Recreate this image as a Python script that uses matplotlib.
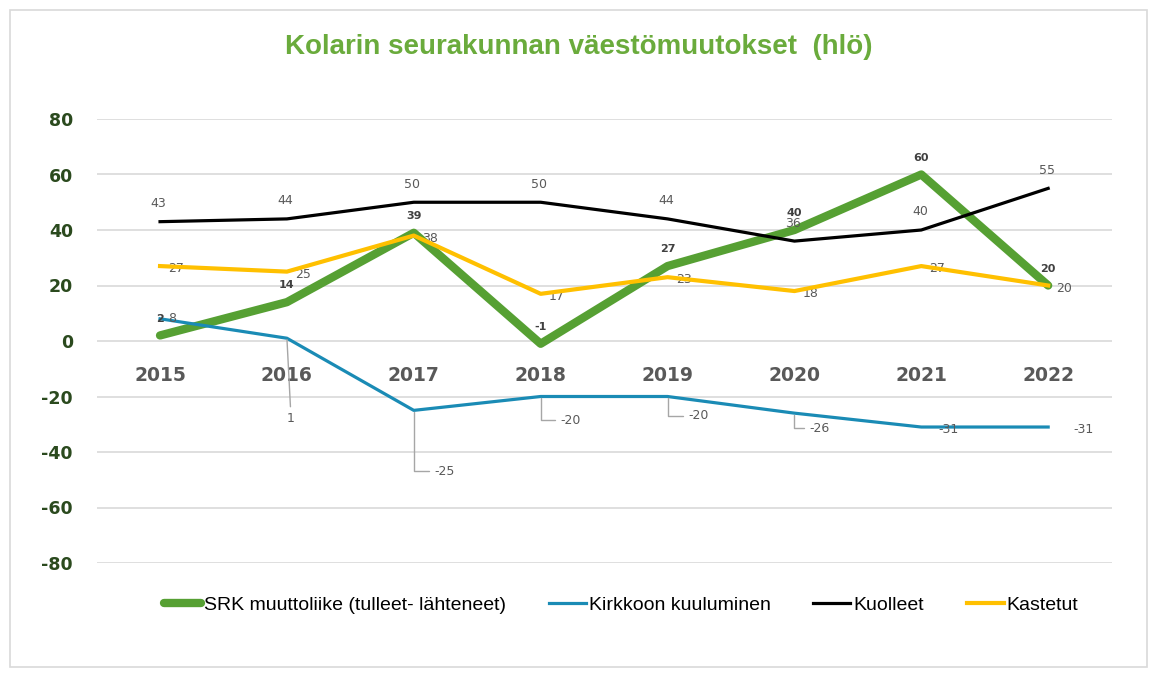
import matplotlib
matplotlib.use("Agg")
import matplotlib.pyplot as plt
import matplotlib.patches as mpatches

plt.rcParams["axes.unicode_minus"] = False

W_PX, H_PX, DPI = 1157, 675, 100

years = ["2015", "2016", "2017", "2018", "2019", "2020", "2021", "2022"]
srk = [2, 14, 39, -1, 27, 40, 60, 20]
kirkko = [8, 1, -25, -20, -20, -26, -31, -31]
kuolleet = [43, 44, 50, 50, 44, 36, 40, 55]
kastetut = [27, 25, 38, 17, 23, 18, 27, 20]

GREEN = "#56A033"
BLUE = "#1A8BB5"
YELLOW = "#FFC000"
GRAY = "#595959"
NARROW = ["Liberation Sans Narrow", "Liberation Sans", "DejaVu Sans"]

fig = plt.figure(figsize=(W_PX / DPI, H_PX / DPI), dpi=DPI)
fig.patch.set_facecolor("white")
ax = fig.add_axes([96.6 / W_PX, 1 - 563 / H_PX, 1015 / W_PX, 444 / H_PX])

# outer frame
fig.add_artist(mpatches.Rectangle((10 / W_PX, 8 / H_PX), 1137 / W_PX, 657 / H_PX,
                                  transform=fig.transFigure, fill=False,
                                  edgecolor="#D9D9D9", lw=1.2))

x = list(range(len(years)))
ax.plot(x, kuolleet, color="black", lw=2.3, label="Kuolleet", zorder=3)
ax.plot(x, kastetut, color=YELLOW, lw=3.0, label="Kastetut", zorder=4)
ax.plot(x, kirkko, color=BLUE, lw=2.3, label="Kirkkoon kuuluminen", zorder=3)
ax.plot(x, srk, color=GREEN, lw=6, label="SRK muuttoliike (tulleet- lähteneet)",
        zorder=2, solid_capstyle="round")

ax.set_xlim(-0.5, len(years) - 0.5)
ax.set_ylim(-80, 80)
ax.set_yticks(range(-80, 81, 20))
ax.grid(axis="y", color="#D9D9D9", lw=1.2)
ax.set_axisbelow(True)
for s in ax.spines.values():
    s.set_visible(False)
ax.spines["bottom"].set_position(("data", 0))
ax.set_xticks(x)
ax.set_xticklabels(years, fontsize=13.5, fontweight="bold", color=GRAY)
ax.tick_params(axis="x", length=0, pad=18)
ax.tick_params(axis="y", length=0, pad=17, labelcolor="#2B4A1E", labelsize=12.5)
for t in ax.get_yticklabels():
    t.set_fontweight("bold")

# data labels
for i, v in enumerate(kuolleet):
    ax.annotate(str(v), (i, v), xytext=(-1, 13), textcoords="offset points",
                ha="center", va="center", fontsize=9, color=GRAY)
for i, v in enumerate(kastetut):
    ax.annotate(str(v), (i, v), xytext=(6, -2), textcoords="offset points",
                ha="left", va="center", fontsize=9, color=GRAY)
for i, v in enumerate(srk):
    ax.annotate(str(v), (i, v), xytext=(0, 12), textcoords="offset points",
                ha="center", va="center", fontsize=8, fontweight="bold", color="#404040")

blue_off = [(6, 0), (3, -58), (15, -44), (14, -17), (15, -14), (11, -11), (12, -2), (18, -2)]
blue_lead = [None, "arc3", "angle", "angle", "angle", "angle", None, None]
for i, v in enumerate(kirkko):
    dx, dy = blue_off[i]
    props = None
    if blue_lead[i] == "arc3":
        props = dict(arrowstyle="-", color="#A6A6A6", lw=1, shrinkA=2, shrinkB=1)
    elif blue_lead[i] == "angle":
        props = dict(arrowstyle="-", color="#A6A6A6", lw=1, shrinkA=2, shrinkB=1,
                     connectionstyle="angle,angleA=0,angleB=90,rad=0")
    ax.annotate(str(v), (i, v), xytext=(dx, dy), textcoords="offset points",
                ha="left" if blue_lead[i] != "arc3" else "center", va="center",
                fontsize=9, color=GRAY, arrowprops=props)

fig.text(0.5, 1 - 47 / H_PX, "Kolarin seurakunnan väestömuutokset  (hlö)",
         ha="center", va="center", fontsize=20, fontweight="bold", color="#6AAB3C",
         family=NARROW)

h, l = ax.get_legend_handles_labels()
order = [3, 2, 0, 1]
fig.legend([h[k] for k in order], [l[k] for k in order], loc="center",
           bbox_to_anchor=(0.537, 1 - 605 / H_PX), ncol=4, frameon=False,
           prop={"family": NARROW, "size": 14}, handlelength=1.9,
           handletextpad=0.15, columnspacing=2.2)

fig.savefig("out.png", dpi=DPI)
